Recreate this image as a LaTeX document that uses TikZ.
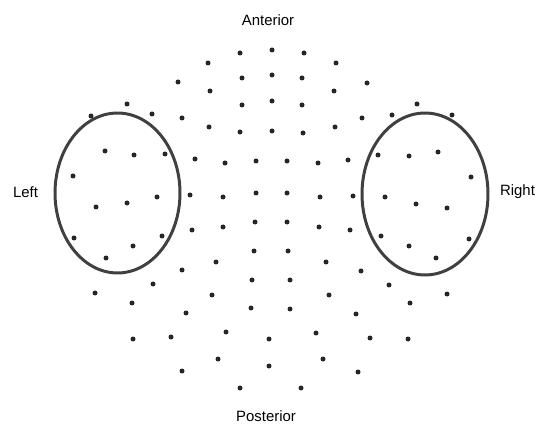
\documentclass[tikz,border=0pt]{standalone}
\usepackage{fontspec}
\setmainfont{Liberation Sans}
\usepackage{tikz}

\tikzset{
  electrode/.style={fill=black!85},
  region/.style={draw=black!75, line width=1.7pt},
  dirlabel/.style={font=\fontsize{8.5}{10}\selectfont, inner sep=0pt}
}

\begin{document}
\begin{tikzpicture}[x=0.02cm, y=-0.02cm]
        \useasboundingbox (0,0) rectangle (537,425);
        % direction labels
        \node[dirlabel] (ant) at (268,20) {Anterior};
        \node[dirlabel] (post) at (266,416) {Posterior};
        \node[dirlabel] (left) at (25.5,192) {Left};
        \node[dirlabel] (right) at (517.5,192) {Right};
        % electrode sites
        \foreach \x/\y in {240/53, 272/50, 304/53, 208/63, 336/63, 178/82, 367/83,
            242/78, 272/75, 302/78, 210/91, 334/91, 242/105, 272/101, 302/105,
            127/104, 417/104, 91/116, 452/115, 152/114, 392/115, 182/118, 362/118,
            209/127, 335/127, 240/132, 272/131, 303/133,
            105/151, 438/152, 134/155, 409/156, 165/154, 378/155, 195/159, 348/160,
            225/163, 318/163, 256/161, 287/161, 73/176, 471/177,
            190/195, 353/196, 223/197, 320/197, 256/193, 287/193, 157/197, 385/197,
            96/207, 447/208, 127/203, 416/204,
            74/238, 469/239, 106/258, 436/258, 133/246, 409/246, 162/236, 381/236,
            192/230, 350/230, 223/227, 319/227, 255/222, 287/222,
            254/251, 288/251, 216/262, 326/262, 182/270, 361/271,
            153/284, 389/285, 95/293, 447/294, 132/303, 410/303, 212/295, 329/295,
            252/280, 290/280, 251/308, 290/309, 186/313, 356/314,
            133/339, 408/339, 171/337, 370/338, 226/332, 316/333, 269/339,
            218/359, 323/359, 182/371, 358/372, 240/388, 301/388, 269/366}
          \fill[electrode] (\x,\y) circle[radius=0.05cm];
        % left and right regions
        \draw[region] (117.5,193) ellipse[x radius=1.25cm, y radius=1.6cm];
        \draw[region] (425,194) ellipse[x radius=1.26cm, y radius=1.62cm];
      \end{tikzpicture}
\end{document}
